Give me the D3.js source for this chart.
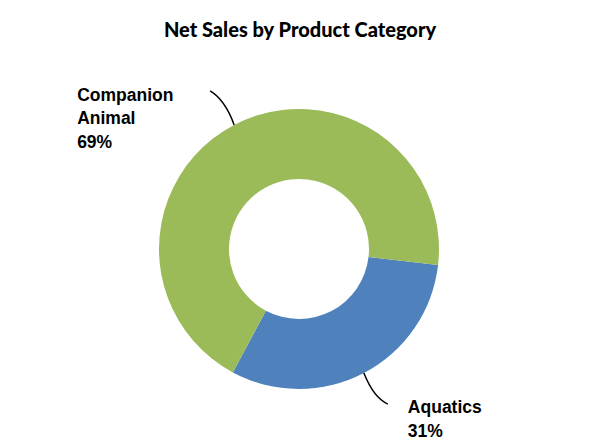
<!DOCTYPE html>
<html><head><meta charset="utf-8">
<script src="https://cdn.jsdelivr.net/npm/d3@7"></script>
<style>body{margin:0;background:#fff}svg{display:block}</style>
</head><body>
<script>
const categories = ["Aquatics", "Companion Animal"];
const labelLines = [["Aquatics"], ["Companion", "Animal"]];
const values = [31, 69];
const colors = ["#4F81BD", "#9BBB59"];
const title = "Net Sales by Product Category";

const W = 600, H = 440, cx = 299, cy = 249, R = 140, r = 70;
const svg = d3.select("body").append("svg").attr("width", W).attr("height", H);

svg.append("text").attr("x", 300).attr("y", 37).attr("text-anchor", "middle")
  .attr("font-family", "Lato, 'Open Sans', sans-serif").attr("font-weight", "900")
  .attr("font-size", 20).attr("fill", "#000").text(title);

const total = d3.sum(values);
const pie = d3.pie().sort(null).startAngle(96.6 * Math.PI / 180).endAngle(96.6 * Math.PI / 180 + 2 * Math.PI);
const arcs = pie(values);
const arc = d3.arc().innerRadius(r).outerRadius(R);
const g = svg.append("g").attr("transform", `translate(${cx},${cy})`);
g.selectAll("path.slice").data(arcs).enter().append("path").attr("class", "slice")
  .attr("d", arc).attr("fill", (d, i) => colors[i]);

arcs.forEach((d, i) => {
  const a = (d.startAngle + d.endAngle) / 2;
  const px = Math.sin(a) * R, py = -Math.cos(a) * R;
  const left = Math.sin(a) < 0;
  const ex = px + (left ? -24 : 24), ey = py + (left ? -34 : 31);
  const qx = px + (left ? -9 : 10), qy = py + (left ? -25 : 25);
  g.append("path").attr("d", `M${px},${py}Q${qx},${qy} ${ex},${ey}`)
    .attr("fill", "none").attr("stroke", "#000").attr("stroke-width", 1.5);
  const pct = Math.round(values[i] / total * 100) + "%";
  const lines = labelLines[i].concat([pct]);
  const tx = left ? cx + ex - 133 : cx + ex + 20;
  const ty = left ? cy + ey + 10 : cy + ey + 9;
  const t = svg.append("text").attr("font-family", "'Liberation Sans', Arial, sans-serif")
    .attr("font-weight", "bold").attr("font-size", 17.5).attr("fill", "#000");
  lines.forEach((l, j) => t.append("tspan").attr("x", tx).attr("y", ty + j * 23.5).text(l));
});
</script>
</body></html>
